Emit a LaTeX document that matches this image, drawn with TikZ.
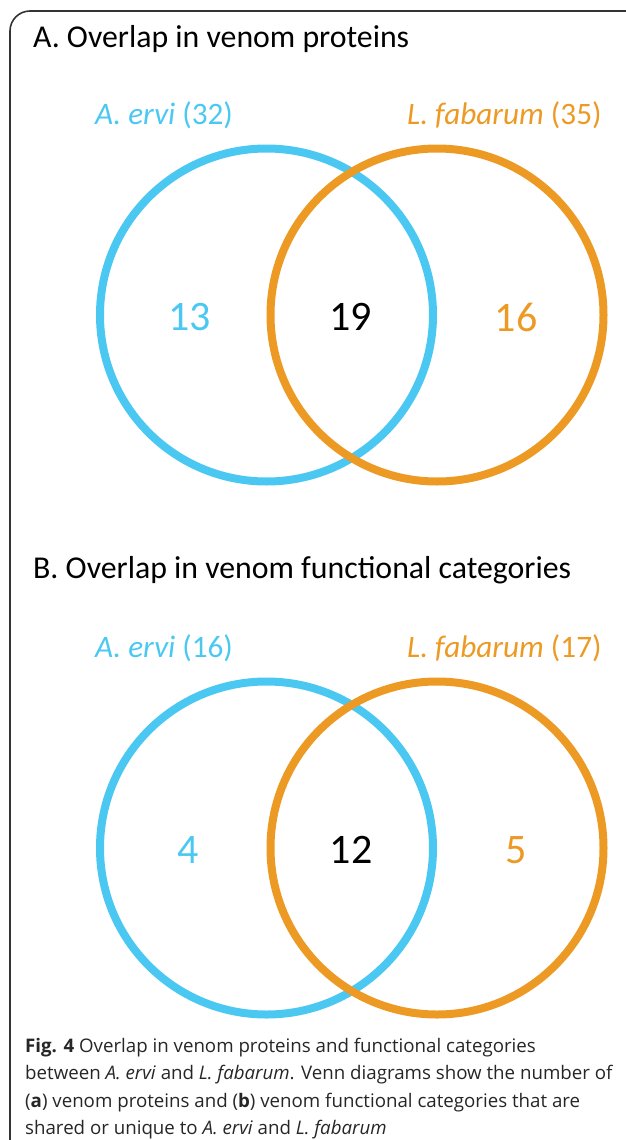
\documentclass[tikz,border=0pt]{standalone}
\usepackage{fontspec}
\setmainfont{Carlito}
\newfontfamily\capfont{Open Sans}
\definecolor{aerv}{HTML}{4AC8F2}
\definecolor{lfab}{HTML}{EC9A24}
\definecolor{framec}{HTML}{333333}
\begin{document}
\begin{tikzpicture}[x=1pt,y=-1pt,
  ring/.style={line width=8pt},
  ttl/.style={anchor=base west,inner sep=0pt,font=\fontsize{31.8}{36}\selectfont},
  lbl/.style={anchor=base west,inner sep=0pt,font=\fontsize{31.2}{36}\selectfont},
  num/.style={inner sep=0pt,font=\fontsize{42}{48}\selectfont},
  capline/.style={anchor=base west,inner sep=0pt,text=black!85,font=\capfont\fontsize{18.7}{22}\selectfont}]
\useasboundingbox (0,0) rectangle (625,1140);
\draw[framec,line width=1.6pt,rounded corners=20pt] (10,1150) -- (10,11) -- (640,11);
% Panel A
\node[ttl] (tA) at (33,48) {A. Overlap in venom proteins};
\node[lbl,text=aerv] (lA1) at (95,124) {\textit{A. ervi} (32)};
\node[lbl,text=lfab] (lA2) at (407,124) {\textit{L. fabarum} (35)};
\draw[ring,aerv] (266.5,315) circle[radius=166.5];
\draw[ring,lfab] (437,315) circle[radius=166.5];
\node[num,text=aerv] (nA1) at (189.5,317) {13};
\node[num] (nA2) at (350.5,317) {19};
\node[num,text=lfab] (nA3) at (516,317) {16};
% Panel B
\node[ttl] (tB) at (33,578) {B. Overlap in venom functional categories};
\node[lbl,text=aerv] (lB1) at (95,657) {\textit{A. ervi} (16)};
\node[lbl,text=lfab] (lB2) at (407,657) {\textit{L. fabarum} (17)};
\draw[ring,aerv] (266.5,848) circle[radius=166.5];
\draw[ring,lfab] (437,848) circle[radius=166.5];
\node[num,text=aerv] (nB1) at (188,850) {4};
\node[num] (nB2) at (351,850) {12};
\node[num,text=lfab] (nB3) at (516,850) {5};
% Caption
\node[capline] (c1) at (25,1052) {\textbf{Fig. 4} Overlap in venom proteins and functional categories};
\node[capline] (c2) at (25,1079) {between \textit{A. ervi} and \textit{L. fabarum}. Venn diagrams show the number of};
\node[capline] (c3) at (25,1107) {(\textbf{a}) venom proteins and (\textbf{b}) venom functional categories that are};
\node[capline] (c4) at (25,1134) {shared or unique to \textit{A. ervi} and \textit{L. fabarum}};
\end{tikzpicture}
\end{document}
